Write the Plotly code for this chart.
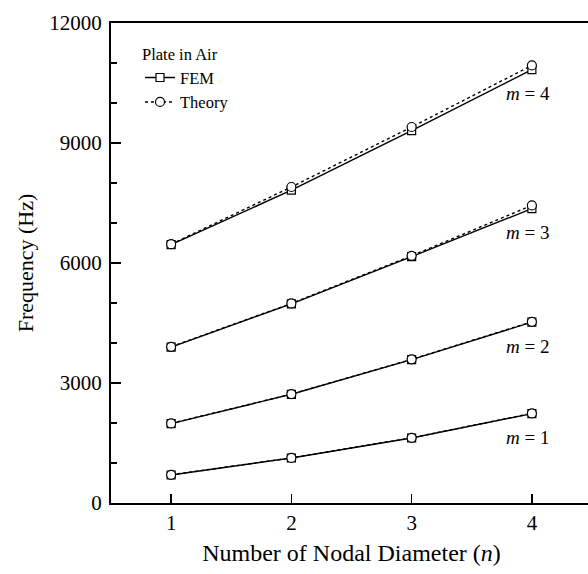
import plotly.graph_objects as go

n_vals = [1, 2, 3, 4]
m_labels = ["m = 1", "m = 2", "m = 3", "m = 4"]

fem_m1 = [700, 1125, 1625, 2235]
fem_m2 = [1985, 2718, 3585, 4520]
fem_m3 = [3895, 4980, 6160, 7360]
fem_m4 = [6460, 7820, 9310, 10835]

theory_m1 = [705, 1128, 1630, 2240]
theory_m2 = [1990, 2722, 3592, 4530]
theory_m3 = [3905, 4990, 6180, 7440]
theory_m4 = [6470, 7900, 9400, 10940]

y_ticks = [0, 3000, 6000, 9000, 12000]

fem = [fem_m1, fem_m2, fem_m3, fem_m4]
theory = [theory_m1, theory_m2, theory_m3, theory_m4]

FONT = "Liberation Serif, Times New Roman, serif"

fig = go.Figure()
for i, vals in enumerate(fem):
    fig.add_trace(go.Scatter(
        x=n_vals, y=vals, mode="lines+markers", name="FEM",
        legendgroup="fem", showlegend=(i == 0),
        line=dict(color="black", width=1.4),
        marker=dict(symbol="square", size=8, color="white",
                    line=dict(color="black", width=1.2)),
    ))
for i, vals in enumerate(theory):
    fig.add_trace(go.Scatter(
        x=n_vals, y=vals, mode="lines+markers", name="Theory",
        legendgroup="theory", showlegend=(i == 0),
        line=dict(color="black", width=1.4, dash="dot"),
        marker=dict(symbol="circle", size=9, color="white",
                    line=dict(color="black", width=1.2)),
    ))

for lab, vals in zip(m_labels, fem):
    fig.add_annotation(
        x=n_vals[-1], y=vals[-1], text="<i>m</i>" + lab[1:],
        showarrow=False, xanchor="center", yanchor="middle",
        xshift=-4, yshift=-24,
        font=dict(family=FONT, size=19, color="black"),
    )

# figure slightly wider than the 588px window: the plot runs off the right edge as in the scan
fig.update_layout(
    width=600, height=574,
    margin=dict(l=111, r=8, t=23, b=71, autoexpand=False),
    paper_bgcolor="white", plot_bgcolor="white",
    font=dict(family=FONT, color="black", size=21),
    showlegend=True, hovermode=False,
    legend=dict(
        x=0.0603, y=0.967, xanchor="left", yanchor="top",
        bgcolor="rgba(0,0,0,0)",
        font=dict(family=FONT, size=16.5, color="black"),
        title=dict(text="Plate in Air", font=dict(family=FONT, size=16.5, color="black")),
        tracegroupgap=0,
    ),
)
fig.update_xaxes(
    range=[0.5, 4.5], tickvals=n_vals, ticktext=[str(v) for v in n_vals],
    ticks="inside", ticklen=9, tickwidth=1.5, tickcolor="black",
    showline=True, linecolor="black", linewidth=2, mirror=True,
    showgrid=False, zeroline=False, automargin=False, showspikes=False,
    tickfont=dict(family=FONT, size=21),
    title=dict(text="Number of Nodal Diameter (<i>n</i>)", font=dict(family=FONT, size=24), standoff=10),
)
fig.update_yaxes(
    range=[0, 12000], tickvals=y_ticks, ticktext=[str(v) for v in y_ticks],
    ticks="inside", ticklen=10, tickwidth=1.5, tickcolor="black",
    minor=dict(dtick=1000, ticks="inside", ticklen=6, tickwidth=1.5, tickcolor="black", showgrid=False),
    showline=True, linecolor="black", linewidth=2, mirror=False,
    showgrid=False, zeroline=False, automargin=False, showspikes=False,
    tickfont=dict(family=FONT, size=21),
    ticklabelstandoff=3,
    title=dict(text="Frequency (Hz)", font=dict(family=FONT, size=22), standoff=10),
)

fig.write_html(
    "out.html",
    config={"displayModeBar": False, "staticPlot": True},
    post_script=(
        "document.documentElement.style.margin='0';"
        "document.documentElement.style.overflow='hidden';"
        "document.body.style.margin='0';"
        "document.body.style.overflow='hidden';"
    ),
)
